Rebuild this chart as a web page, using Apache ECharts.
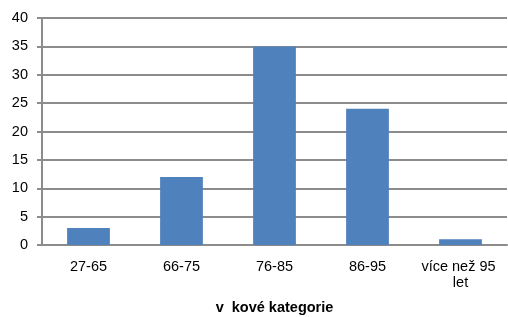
<!DOCTYPE html>
<html>
<head>
<meta charset="utf-8">
<script src="https://cdn.jsdelivr.net/npm/echarts@6/dist/echarts.min.js"></script>
<style>
  html, body { margin: 0; padding: 0; background: #fff; }
  #chart { width: 508px; height: 317px; }
</style>
</head>
<body>
<div id="chart"></div>
<script>
// věkové kategorie a počty
var categories = ['27-65', '66-75', '76-85', '86-95', 'více než 95 let'];
var counts = [3, 12, 35, 24, 1];
var axisTitle = 'v  kové kategorie';

var chart = echarts.init(document.getElementById('chart'));
var option = {
  animation: false,
  textStyle: { fontFamily: 'Liberation Sans, Arial, sans-serif' },
  grid: { left: 42, right: 1, top: 18, bottom: 72, outerBoundsMode: 'none', containLabel: false },
  xAxis: {
    type: 'category',
    data: categories,
    name: axisTitle,
    nameLocation: 'middle',
    nameGap: 55,
    nameTextStyle: { fontSize: 14.5, fontWeight: 'bold', color: '#000' },
    axisLine: { lineStyle: { color: '#8c8c8c', width: 2 } },
    axisTick: { show: false },
    axisLabel: {
      color: '#000', fontSize: 14.5, margin: 14, lineHeight: 16,
      width: 100, overflow: 'break', interval: 0
    }
  },
  yAxis: {
    type: 'value',
    min: 0, max: 40, interval: 5,
    axisLine: { show: true, lineStyle: { color: '#8c8c8c', width: 2 } },
    axisTick: { show: true, length: 5, lineStyle: { color: '#8c8c8c', width: 2 } },
    axisLabel: { color: '#000', fontSize: 14.5, margin: 14 },
    splitLine: { lineStyle: { color: '#8c8c8c', width: 2 } }
  },
  series: [{
    type: 'bar',
    data: counts,
    barWidth: '46%',
    itemStyle: { color: '#4f81bd' }
  }]
};
chart.setOption(option);
</script>
</body>
</html>
